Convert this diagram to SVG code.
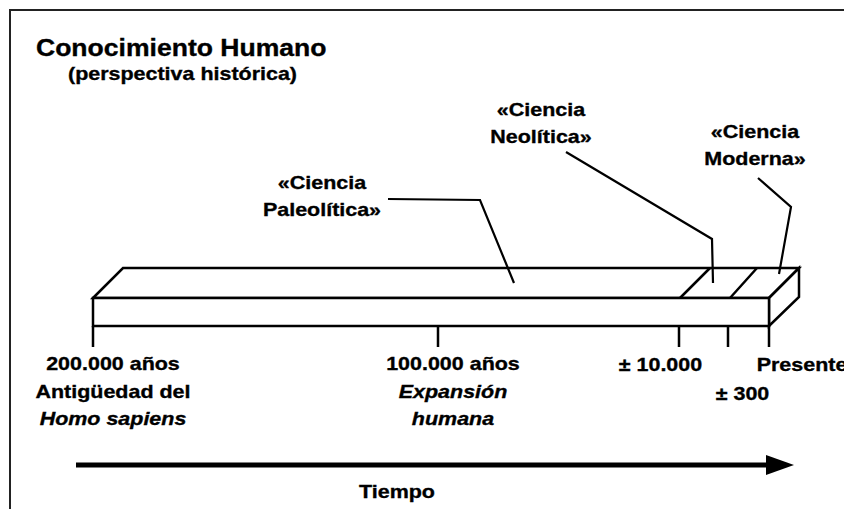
<svg xmlns="http://www.w3.org/2000/svg" width="844" height="509" viewBox="0 0 844 509">
<defs>
<style>
.t{font-family:"Liberation Sans",Arial,Helvetica,sans-serif;font-weight:bold;font-size:19px;fill:#000;stroke:#000;stroke-width:0.35}
.c{text-anchor:middle}
.i{font-style:italic}
.bar{fill:#fff;stroke:#000;stroke-width:2.5;stroke-linejoin:miter}
.ln{fill:none;stroke:#000;stroke-width:2.5}
.ld{fill:none;stroke:#000;stroke-width:2.2}
</style>
<marker id="ah" markerUnits="userSpaceOnUse" markerWidth="30" markerHeight="22" refX="0" refY="10" orient="auto" viewBox="0 0 30 22">
<path d="M0,0 L28,10 L0,20 Z" fill="#000"/>
</marker>
</defs>
<rect x="0" y="0" width="844" height="509" fill="#fff"/>
<g id="frame"><path d="M10,509 L10,10 L844,10" fill="none" stroke="#222" stroke-width="2"/></g>

<g id="title" class="t" transform="scale(1.13,1)">
<text x="31.86" y="56" style="font-size:23.5px">Conocimiento Humano</text>
<text x="60.18" y="80">(perspectiva histórica)</text>
</g>

<g id="bar">
<path class="bar" d="M93,298 L123,268 L799,268 L769,298 Z"/>
<path class="bar" d="M769,298 L799,268 L799,297 L769,326 Z"/>
<rect class="bar" x="93" y="298" width="676" height="28"/>
<path class="ln" d="M680,298 L710,268 M730,298 L757,268"/>
</g>

<g id="ticks">
<path class="ln" d="M93,326 L93,347 M438,326 L438,347 M679,326 L679,347 M728,326 L728,347 M769,326 L769,347"/>
</g>

<g id="connectors">
<path class="ld" d="M388,199 L480,200 L514,283"/>
<path class="ld" d="M566,152 L712,239 L713,283"/>
<path class="ld" d="M758,178 L791,207 L779,274"/>
<path d="M76,465 L766,465" stroke="#000" stroke-width="5" fill="none" marker-end="url(#ah)"/>
</g>

<g id="label-paleolitica" class="t c" transform="scale(1.13,1)">
<text x="284.96" y="189">«Ciencia</text>
<text x="284.96" y="216">Paleolítica»</text>
</g>
<g id="label-neolitica" class="t c" transform="scale(1.13,1)">
<text x="478.76" y="116">«Ciencia</text>
<text x="478.76" y="143">Neolítica»</text>
</g>
<g id="label-moderna" class="t c" transform="scale(1.13,1)">
<text x="668.14" y="138">«Ciencia</text>
<text x="668.14" y="165">Moderna»</text>
</g>

<g id="label-200000" class="t c" transform="scale(1.13,1)">
<text x="100" y="370">200.000 años</text>
<text x="100" y="398">Antigüedad del</text>
<text x="100" y="425" class="i">Homo sapiens</text>
</g>
<g id="label-100000" class="t c" transform="scale(1.13,1)">
<text x="400.88" y="370">100.000 años</text>
<text x="400.88" y="398" class="i">Expansión</text>
<text x="400.88" y="425" class="i">humana</text>
</g>
<g id="label-10000" class="t c" transform="scale(1.13,1)">
<text x="584.51" y="371">± 10.000</text>
</g>
<g id="label-300" class="t c" transform="scale(1.13,1)">
<text x="657.08" y="400">± 300</text>
</g>
<g id="label-presente" class="t" transform="scale(1.13,1)">
<text x="669.65" y="371">Presente</text>
</g>
<g id="label-tiempo" class="t c" transform="scale(1.13,1)">
<text x="351.33" y="498">Tiempo</text>
</g>
</svg>
